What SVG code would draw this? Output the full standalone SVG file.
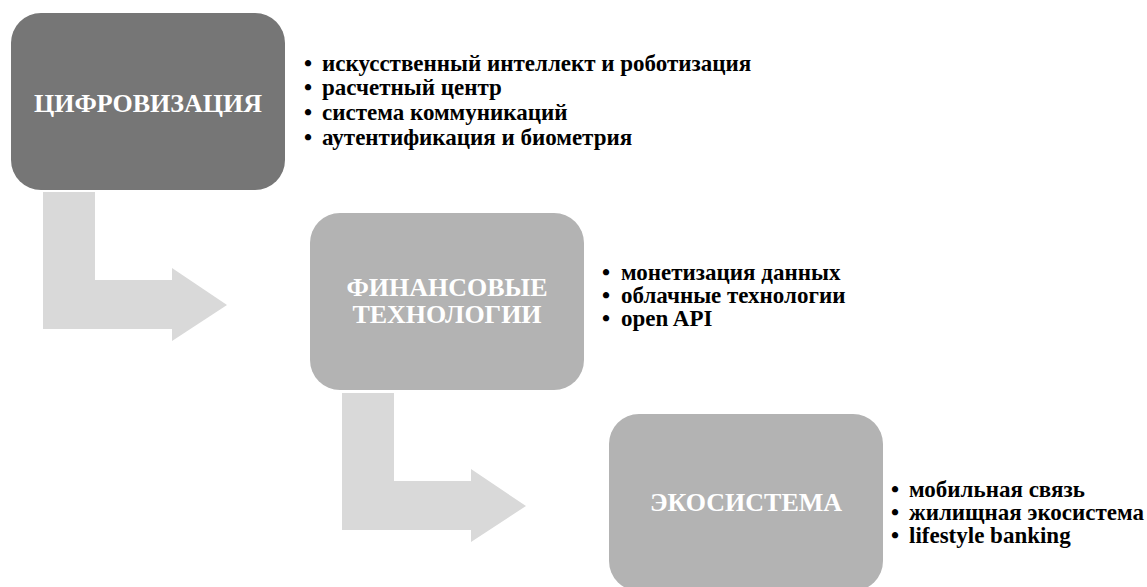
<svg xmlns="http://www.w3.org/2000/svg" width="1147" height="587" viewBox="0 0 1147 587">
<style>
.title{font-family:"Liberation Serif","Times New Roman",serif;font-weight:bold;font-size:26px;fill:#ffffff;text-anchor:middle}
.item{font-family:"Liberation Serif","Times New Roman",serif;font-weight:bold;font-size:23px;fill:#000000}
.arrow{fill:#d9d9d9}
</style>
<rect width="1147" height="587" fill="#ffffff"/>
<g id="connectors">
<path class="arrow" d="M43,192 H95 V280 H172 V268 L227,305 L172,341 V329 H43 Z"/>
<path class="arrow" d="M342,393 H394 V481 H471 V469 L526,506 L471,542 V530 H342 Z"/>
</g>
<g id="node-digitalization">
<rect x="11" y="13" width="274" height="177" rx="30" fill="#767676"/>
<text class="title" x="148" y="112">ЦИФРОВИЗАЦИЯ</text>
</g>
<g id="list-digitalization">
<text class="item" x="304" y="71">•</text><text class="item" x="322" y="71">искусственный интеллект и роботизация</text>
<text class="item" x="304" y="95">•</text><text class="item" x="322" y="95">расчетный центр</text>
<text class="item" x="304" y="120">•</text><text class="item" x="322" y="120">система коммуникаций</text>
<text class="item" x="304" y="145">•</text><text class="item" x="322" y="145">аутентификация и биометрия</text>
</g>
<g id="node-fintech">
<rect x="310" y="213" width="274" height="177" rx="30" fill="#b3b3b3"/>
<text class="title" x="447" y="296">ФИНАНСОВЫЕ</text>
<text class="title" x="447" y="323">ТЕХНОЛОГИИ</text>
</g>
<g id="list-fintech">
<text class="item" x="602" y="280">•</text><text class="item" x="621" y="280">монетизация данных</text>
<text class="item" x="602" y="303">•</text><text class="item" x="621" y="303">облачные технологии</text>
<text class="item" x="602" y="326">•</text><text class="item" x="621" y="326">open API</text>
</g>
<g id="node-ecosystem">
<rect x="609" y="414" width="274" height="177" rx="30" fill="#b3b3b3"/>
<text class="title" x="746" y="511">ЭКОСИСТЕМА</text>
</g>
<g id="list-ecosystem">
<text class="item" x="891" y="497">•</text><text class="item" x="909" y="497">мобильная связь</text>
<text class="item" x="891" y="520">•</text><text class="item" x="909" y="520">жилищная экосистема</text>
<text class="item" x="891" y="543">•</text><text class="item" x="909" y="543">lifestyle banking</text>
</g>
</svg>
